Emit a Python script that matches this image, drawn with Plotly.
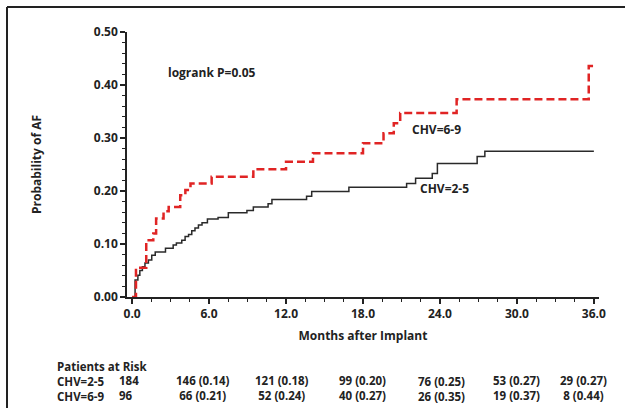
import plotly.graph_objects as go

# ---- data ----
chv25_months = [0, 0.23, 0.45, 0.6, 0.8, 1.0, 1.27, 1.53, 1.8, 2.6, 3.2, 3.45, 3.87, 4.13, 4.4, 4.65,
                4.9, 5.17, 5.45, 5.87, 6.7, 7.5, 8.95, 9.45, 10.6, 10.9, 13.6, 14.0, 16.9, 21.4, 22.1,
                23.4, 23.8, 26.9, 27.5, 36.0]
chv25_prob = [0, 0.032, 0.041, 0.05, 0.057, 0.064, 0.07, 0.079, 0.085, 0.092, 0.098, 0.102, 0.107, 0.114,
              0.118, 0.125, 0.13, 0.136, 0.14, 0.147, 0.15, 0.159, 0.163, 0.17, 0.176, 0.184, 0.19, 0.199,
              0.207, 0.214, 0.224, 0.233, 0.252, 0.265, 0.275, 0.275]

chv69_months = [0, 0.3, 1.1, 1.65, 1.87, 2.45, 2.85, 3.75, 4.15, 4.55, 6.2, 9.45, 12.0, 14.1, 18.0,
                19.6, 20.4, 20.9, 25.3, 35.6, 36.0]
chv69_prob = [0, 0.055, 0.107, 0.12, 0.148, 0.162, 0.17, 0.192, 0.202, 0.214, 0.227, 0.241, 0.255,
              0.271, 0.29, 0.309, 0.328, 0.347, 0.373, 0.436, 0.436]

x_ticks = [0, 6, 12, 18, 24, 30, 36]
y_ticks = [0, 0.1, 0.2, 0.3, 0.4, 0.5]

group_names = ["CHV=2-5", "CHV=6-9"]
risk_months = [0, 6, 12, 18, 24, 30, 36]
risk_25 = ["184", "146 (0.14)", "121 (0.18)", "99 (0.20)", "76 (0.25)", "53 (0.27)", "29 (0.27)"]
risk_69 = ["96", "66 (0.21)", "52 (0.24)", "40 (0.27)", "26 (0.35)", "19 (0.37)", "8 (0.44)"]

# ---- layout geometry (pixels) ----
W, H = 625, 416
L, R, T, B = 127, 599, 32, 297


def px(x):
    return (x - L) / (R - L)


def py(y):
    return (B - y) / (B - T)


FONT = "Open Sans"
TXT = "#222222"

fig = go.Figure()
fig.add_trace(go.Scatter(x=chv25_months, y=chv25_prob, mode="lines", line_shape="hv",
                         line=dict(color="#2a2a2a", width=1.5), showlegend=False))
fig.add_trace(go.Scatter(x=chv69_months, y=chv69_prob, mode="lines", line_shape="hv",
                         line=dict(color="#e02424", width=2.5, dash="8px,4px"), showlegend=False))

axis_font = dict(family=FONT, size=12, color=TXT, weight="bold")

fig.update_xaxes(range=[-0.4, 36.4], tickvals=x_ticks, ticktext=[f"{v:.1f}" for v in x_ticks],
                 ticks="outside", ticklen=5, tickwidth=1.5, tickcolor="#222",
                 showline=True, linecolor="#222", linewidth=2, showgrid=False, zeroline=False,
                 tickfont=axis_font,
                 minor=dict(dtick=1.5, tick0=0, ticks="outside", ticklen=3, tickwidth=1, tickcolor="#222"),
                 title=dict(text="Months after Implant", font=axis_font, standoff=10))
fig.update_yaxes(range=[0, 0.5], tickvals=y_ticks, ticktext=[f"{v:.2f}" for v in y_ticks],
                 ticks="outside", ticklen=5, tickwidth=1.5, tickcolor="#222",
                 showline=True, linecolor="#222", linewidth=1.5, showgrid=False, zeroline=False,
                 tickfont=axis_font,
                 minor=dict(dtick=0.02, tick0=0, ticks="outside", ticklen=3, tickwidth=1, tickcolor="#222"),
                 title=dict(text="Probability of AF", font=axis_font, standoff=50))

ann = []


def add_text(text, x, y, anchor="left", size=12, align="left"):
    ann.append(dict(text=text, x=px(x), y=py(y), xref="paper", yref="paper", xanchor=anchor,
                    yanchor="middle", showarrow=False, borderpad=0, align=align,
                    font=dict(family=FONT, size=size, color=TXT, weight="bold")))


add_text("logrank P=0.05", 167, 72)
add_text("CHV=6-9", 411, 129)
add_text("CHV=2-5", 419, 188)

TS = 11.5
# risk table: one multi-line text per column
add_text("<br>".join(["Patients at Risk"] + group_names), 56, 381, size=TS)
add_text("<br>".join([risk_25[0], risk_69[0]]), 118, 388, size=TS)
xshift = [0, -6, -4, -1, 2, 0, -10]
for i, m in enumerate(risk_months):
    if i == 0:
        continue
    cx = L + (m + 0.4) / 36.8 * (R - L)
    add_text("<br>".join([risk_25[i], risk_69[i]]), cx + xshift[i], 388 + (1 if i == 4 else 0),
             anchor="center", size=TS, align="center")

shapes = [
    dict(type="line", xref="paper", yref="paper", x0=px(7), x1=px(626), y0=py(7), y1=py(7),
         line=dict(color="#222", width=2)),
    dict(type="line", xref="paper", yref="paper", x0=px(7), x1=px(7), y0=py(7), y1=py(408),
         line=dict(color="#222", width=2)),
]

fig.update_layout(width=W, height=H, margin=dict(l=L, r=W - R, t=T, b=H - B, autoexpand=False),
                  paper_bgcolor="white", plot_bgcolor="white", annotations=ann, shapes=shapes,
                  showlegend=False)

fig.write_html("out.html")
